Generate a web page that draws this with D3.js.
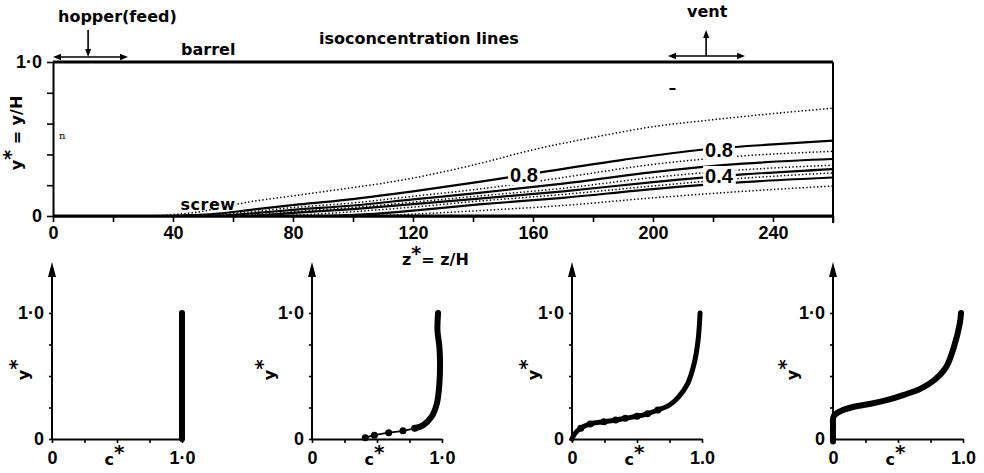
<!DOCTYPE html>
<meta charset="utf-8">
<style>
body { margin: 0; background: #fff; }
text { fill: #000; }
.word { font-family: "DejaVu Sans", sans-serif; font-weight: bold; font-size: 16px; }
.num { font-family: "Liberation Sans", sans-serif; font-weight: bold; font-size: 18px; }
.big { font-family: "Liberation Sans", sans-serif; font-weight: bold; font-size: 20px; }
</style>
<body>
<div id="chart"></div>
<script src="https://d3js.org/d3.v7.min.js"></script>
<script>

// ---- data ----

// main plot axes
var zTicks = [0, 20, 40, 60, 80, 100, 120, 140, 160, 180, 200, 220, 240, 260];
var zTickLabels = [0, 40, 80, 120, 160, 200, 240];
var yTicks = [0, 0.2, 0.4, 0.6, 0.8, 1.0];
var yTickLabels = {0: "0", 1: "1·0"};

// isoconcentration lines, [z*, y*]
var isoLevels = [0.9, 0.8, 0.7, 0.6, 0.5, 0.4, 0.3, 0.2, 0.1];
var iso09 = [[33,0],[48,0.025],[65,0.09],[82,0.136],[100,0.185],[116,0.232],[142,0.34],[160,0.43],[180,0.51],[200,0.58],[220,0.625],[240,0.665],[260,0.70]];
var iso08 = [[40,0],[55,0.015],[66,0.04],[82,0.075],[100,0.11],[120,0.16],[142,0.222],[163,0.285],[190,0.365],[216,0.43],[240,0.465],[260,0.49]];
var iso07 = [[48,0],[62,0.02],[80,0.055],[100,0.085],[120,0.128],[142,0.175],[170,0.25],[200,0.335],[230,0.39],[260,0.42]];
var iso06 = [[55,0],[68,0.02],[80,0.04],[100,0.068],[120,0.108],[142,0.15],[170,0.21],[200,0.285],[230,0.34],[260,0.37]];
var iso05 = [[60,0],[72,0.015],[85,0.035],[100,0.055],[120,0.09],[142,0.13],[170,0.18],[200,0.25],[230,0.30],[260,0.33]];
var iso04 = [[66,0],[80,0.02],[100,0.045],[120,0.077],[142,0.113],[170,0.16],[200,0.22],[230,0.27],[260,0.305]];
var iso03 = [[75,0],[90,0.015],[105,0.035],[120,0.058],[142,0.097],[170,0.14],[200,0.195],[230,0.245],[260,0.28]];
var iso02 = [[90,0],[105,0.012],[120,0.035],[142,0.075],[170,0.118],[200,0.175],[230,0.22],[260,0.25]];
var iso01 = [[105,0],[120,0.012],[142,0.035],[170,0.068],[200,0.118],[230,0.16],[260,0.195]];
var isoLines = [iso09, iso08, iso07, iso06, iso05, iso04, iso03, iso02, iso01];

// labels written on the lines: [text, z*, y*]
var isoLabels = [["0.8", 157, 0.266], ["0.8", 222, 0.43], ["0.4", 222, 0.26]];

// concentration profiles, [c*, y*]
var cTicks = [0, 0.25, 0.5, 0.75, 1.0];
var profileTicksY = [0, 0.25, 0.5, 0.75, 1.0];
var cTickLabels = [["0", "1·0"], ["0", "1·0"], ["0", "1.0"], ["0", "1.0"]];

var profile1Dense = [[1.0, 0], [1.0, 1.0]];
var profile1Dots = [];
var profile2Dense = [[0.79,0.085],[0.856,0.11],[0.92,0.177],[0.96,0.28],[0.98,0.44],[0.985,0.60],[0.98,0.73],[0.965,0.865],[0.97,1.0]];
var profile2Dots = [[0.41,0.01],[0.48,0.03],[0.59,0.05],[0.70,0.065],[0.79,0.085]];
var profile3Dense = [[0,0],[0.02,0.04],[0.067,0.085],[0.14,0.12],[0.245,0.137],[0.335,0.15],[0.41,0.164],[0.5,0.18],[0.58,0.2],[0.66,0.23],[0.75,0.27],[0.82,0.335],[0.89,0.44],[0.94,0.6],[0.97,0.785],[0.985,1.0]];
var profile3Dots = [[0.067,0.085],[0.14,0.12],[0.245,0.137],[0.335,0.15],[0.41,0.164],[0.5,0.18],[0.58,0.2],[0.66,0.23]];
var profile4Dense = [[0,-0.02],[0,0.1],[0.005,0.18],[0.055,0.22],[0.16,0.256],[0.29,0.28],[0.42,0.31],[0.545,0.35],[0.675,0.40],[0.78,0.468],[0.87,0.57],[0.93,0.73],[0.975,0.915],[0.985,1.0]];
var profile4Dots = [];
var profilesDense = [profile1Dense, profile2Dense, profile3Dense, profile4Dense];
var profilesDots = [profile1Dots, profile2Dots, profile3Dots, profile4Dots];

// ---- layout ----
var width = 984, height = 473;
var panelLeft = [52, 312, 572, 833];
var panelYLabelOffset = [28, 42, 38, 40];

var svg = d3.select("#chart").append("svg")
    .attr("width", width)
    .attr("height", height);

var x = d3.scaleLinear().domain([0, 260]).range([53, 833]);
var y = d3.scaleLinear().domain([0, 1]).range([216, 62]);

function arrowHead(g, tx, ty, angle, len, hw) {
  g.append("path")
    .attr("d", "M0,0L" + (-len) + "," + (-hw) + "L" + (-len) + "," + hw + "Z")
    .attr("transform", "translate(" + tx + "," + ty + ") rotate(" + angle + ")")
    .attr("fill", "#000");
}

function styleAxis(g) {
  g.attr("font-family", null).attr("font-size", null);
  g.selectAll("text").attr("class", "num");
  g.select(".domain").attr("stroke-width", 2);
  g.selectAll(".tick line").attr("stroke-width", 1.6);
}

// main y axis
var gy = svg.append("g")
    .attr("transform", "translate(" + x(0) + ",0)")
    .call(d3.axisLeft(y).tickValues(yTicks).tickSize(6).tickSizeOuter(0).tickPadding(5)
      .tickFormat(function(d) { return yTickLabels[d] || ""; }));
styleAxis(gy);

// main x axis
var gx = svg.append("g")
    .attr("transform", "translate(0," + y(0) + ")")
    .call(d3.axisBottom(x).tickValues(zTicks).tickSize(6).tickSizeOuter(0).tickPadding(4)
      .tickFormat(function(d) { return zTickLabels.indexOf(d) >= 0 ? d : ""; }));
styleAxis(gx);

// isoconcentration lines
var isoLine = d3.line()
    .x(function(d) { return x(d[0]); })
    .y(function(d) { return y(d[1]); })
    .curve(d3.curveMonotoneX);

svg.append("g").selectAll("path")
  .data(isoLines)
  .enter().append("path")
    .attr("d", isoLine)
    .attr("fill", "none")
    .attr("stroke", "#000")
    .attr("stroke-width", function(d, i) { return i % 2 ? 2.2 : 1.5; })
    .attr("stroke-dasharray", function(d, i) { return i % 2 ? null : "1.4 2.2"; });

// barrel, screw and end of the channel
svg.append("line")
    .attr("x1", x(0)).attr("x2", x(260)).attr("y1", y(1)).attr("y2", y(1))
    .attr("stroke", "#000").attr("stroke-width", 3);
svg.append("line")
    .attr("x1", x(0)).attr("x2", x(260)).attr("y1", y(0)).attr("y2", y(0))
    .attr("stroke", "#000").attr("stroke-width", 3);
svg.append("line")
    .attr("x1", x(260)).attr("x2", x(260)).attr("y1", y(1)).attr("y2", y(0) + 7)
    .attr("stroke", "#000").attr("stroke-width", 2);

// text on a white patch
function knockoutText(g, tx, ty, str, cls, anchor, trimBottom) {
  var t = g.append("text")
      .attr("class", cls)
      .attr("x", tx).attr("y", ty)
      .attr("text-anchor", anchor || "middle")
      .text(str);
  var b = t.node().getBBox();
  g.insert("rect", function() { return t.node(); })
      .attr("x", b.x - 2).attr("y", b.y + 1)
      .attr("width", b.width + 4).attr("height", b.height - 2 - (trimBottom || 0))
      .attr("fill", "#fff");
  return t;
}

var labelG = svg.append("g");
isoLabels.forEach(function(d) {
  knockoutText(labelG, x(d[1]), y(d[2]) + 7, d[0], "big");
});
knockoutText(labelG, x(42.5), 210, "screw", "word", "start", 4).attr("letter-spacing", 0.5);

// annotations above the barrel
var hopper = [0, 11.7, 25];
var vent = [205, 217.7, 230.7];
var ann = svg.append("g");
function doubleArrow(z, yy) {
  ann.append("line")
    .attr("x1", x(z[0]) + 4).attr("x2", x(z[2]) - 4).attr("y1", yy).attr("y2", yy)
    .attr("stroke", "#000").attr("stroke-width", 1.6);
  arrowHead(ann, x(z[0]), yy, 180, 8, 3.2);
  arrowHead(ann, x(z[2]), yy, 0, 8, 3.2);
}
doubleArrow(hopper, y(1) - 5);
ann.append("line")
    .attr("x1", x(hopper[1])).attr("x2", x(hopper[1])).attr("y1", 30).attr("y2", y(1) - 10)
    .attr("stroke", "#000").attr("stroke-width", 1.6);
arrowHead(ann, x(hopper[1]), y(1) - 5, 90, 8, 3);
doubleArrow(vent, y(1) - 6);
ann.append("line")
    .attr("x1", x(vent[1])).attr("x2", x(vent[1])).attr("y1", y(1) - 6).attr("y2", 36)
    .attr("stroke", "#000").attr("stroke-width", 1.6);
arrowHead(ann, x(vent[1]), 30, -90, 8, 3);

ann.append("text").attr("class", "word").attr("x", 58).attr("y", 22).text("hopper(feed)");
ann.append("text").attr("class", "word").attr("x", 181).attr("y", 55).text("barrel");
ann.append("text").attr("class", "word").attr("x", 319).attr("y", 44).text("isoconcentration lines");
ann.append("text").attr("class", "word").attr("x", 687).attr("y", 17).attr("font-size", 14).text("vent");
ann.append("line").attr("x1", x(205.5)).attr("x2", x(207.5)).attr("y1", 89).attr("y2", 89)
    .attr("stroke", "#000").attr("stroke-width", 2);
ann.append("text").attr("x", 59).attr("y", 139).attr("font-family", "DejaVu Serif")
    .attr("font-size", 10).text("n");

// axis titles
var yt = ann.append("text").attr("class", "word")
    .attr("transform", "translate(22,133) rotate(-90)")
    .attr("text-anchor", "middle");
yt.append("tspan").text("y");
yt.append("tspan").attr("dy", -5).attr("font-size", 19).text("*");
yt.append("tspan").attr("dy", 5).text(" = y/H");

var xt = ann.append("text").attr("class", "word").attr("x", 402).attr("y", 265);
xt.append("tspan").text("z");
xt.append("tspan").attr("dy", -5).attr("font-size", 19).text("*");
xt.append("tspan").attr("dy", 5).text("= z/H");

// ---- concentration profiles ----
var py = d3.scaleLinear().domain([0, 1]).range([439, 313]);
var profileLine = d3.line().curve(d3.curveCatmullRom.alpha(0.5));

panelLeft.forEach(function(left, i) {
  var px = d3.scaleLinear().domain([0, 1]).range([left, left + 130]);
  var g = svg.append("g");

  var ay = g.append("g")
      .attr("transform", "translate(" + left + ",0)")
      .call(d3.axisLeft(py).tickValues(profileTicksY).tickSize(3).tickSizeOuter(0).tickPadding(5)
        .tickFormat(function(d) { return d === 0 ? "0" : d === 1 ? "1·0" : ""; }));
  styleAxis(ay);
  ay.select(".domain").remove();
  g.append("line")
      .attr("x1", left).attr("x2", left).attr("y1", py(0)).attr("y2", py(1.405) + 12)
      .attr("stroke", "#000").attr("stroke-width", 2);
  arrowHead(g, left, py(1.405), -90, 15, 4);

  var ax = g.append("g")
      .attr("transform", "translate(0," + py(0) + ")")
      .call(d3.axisBottom(px).tickValues(cTicks).tickSize(4).tickSizeOuter(0).tickPadding(8)
        .tickFormat(function(d) { return d === 0 ? cTickLabels[i][0] : d === 1 ? cTickLabels[i][1] : ""; }));
  styleAxis(ax);

  var ct = g.append("text").attr("class", "word")
      .attr("x", px(0.48)).attr("y", 465).attr("text-anchor", "middle");
  ct.append("tspan").text("c");
  ct.append("tspan").attr("dy", -6).attr("font-size", 20).text("*");

  var yl = g.append("text").attr("class", "word")
      .attr("transform", "translate(" + (left - panelYLabelOffset[i] + 5) + "," + py(0.55) + ") rotate(-90)")
      .attr("text-anchor", "middle");
  yl.append("tspan").text("y");
  yl.append("tspan").attr("dy", -6).attr("font-size", 20).text("*");

  var dots = profilesDots[i].map(function(d) { return [px(d[0]), py(d[1])]; });
  var dense = profilesDense[i].map(function(d) { return [px(d[0]), py(d[1])]; });

  if (dots.length) {
    g.append("path").attr("d", profileLine(dots))
      .attr("fill", "none").attr("stroke", "#000").attr("stroke-width", 1.8);
  }
  g.append("path").attr("d", profileLine(dense))
    .attr("fill", "none").attr("stroke", "#000")
    .attr("stroke-width", i === 2 ? 5 : 6)
    .attr("stroke-linecap", "round").attr("stroke-linejoin", "round");
  g.selectAll("circle.dot").data(dots).enter().append("circle")
    .attr("class", "dot")
    .attr("cx", function(d) { return d[0]; })
    .attr("cy", function(d) { return d[1]; })
    .attr("r", 3.5)
    .attr("fill", "#000");
});

</script>
</body>
</html>
